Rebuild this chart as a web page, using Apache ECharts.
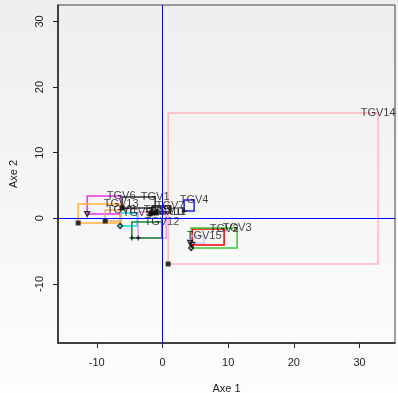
<!DOCTYPE html>
<html>
<head>
<meta charset="utf-8">
<script src="https://cdn.jsdelivr.net/npm/echarts@6/dist/echarts.min.js"></script>
<style>
html,body{margin:0;padding:0;}
body{width:398px;height:393px;background:linear-gradient(#eeeeee,#fdfdfd);}
#c{width:398px;height:393px;}
</style>
</head>
<body>
<div id="c"></div>
<script>
// group labels
var groups = ['TGV1','TGV2','TGV3','TGV4','TGV5','TGV6','TGV7','TGV8','TGV9','TGV10','TGV11','TGV12','TGV13','TGV14','TGV15'];
// start point (marker corner)
var startX = [-6.13, 4.52, 4.37, 3.30, -6.44, -11.46, -1.57, -8.72, -1.87, -3.70, -0.96, -4.66, -12.83, 0.87, 4.22];
var startY = [1.57, -4.06, -4.52, 1.11, -1.17, 0.65, 0.81, -0.41, 0.65, -3.00, 0.81, -3.00, -0.72, -6.96, -3.76];
// end point (label corner)
var endX = [-1.11, 9.39, 11.37, 4.82, -3.85, -6.29, 1.17, -6.29, -0.65, 0.56, 1.02, -0.09, -6.29, 32.84, 6.35];
var endY = [3.24, -1.63, -1.48, 2.79, 0.81, 3.39, 1.87, 1.26, 1.26, 0.96, 0.96, -0.56, 2.18, 16.03, -2.69];
// tick labels
var xTicks = [-10, 0, 10, 20, 30];
var yTicks = [-10, 0, 10, 20, 30];

// styles
var palette = ['#333333','#ff0000','#33cc33','#2222ee','#00e5ee','#ee33ee','#222222','#e8b060','#555555','#ee99ee','#666666','#1a8a3a','#ffb340','#ffb6c1','#ccccff'];
var plusPath = 'path://M-1,-4H1V-1H4V1H1V4H-1V1H-4V-1H-1Z';
var markerShapes = ['rect','triangle','diamond',plusPath,'diamond','triangle','rect','rect','rect',plusPath,'rect',plusPath,'rect','rect','triangle'];
var markerRotate = [0,180,0,0,0,180,0,0,0,0,0,0,0,0,180];
var markerFill = [true,false,false,true,false,false,true,true,true,true,true,true,true,true,false];

var rectData = groups.map(function(g,i){return [startX[i],startY[i],endX[i],endY[i],i];});
var markerData = groups.map(function(g,i){
  return {value:[startX[i],startY[i]], symbol:markerShapes[i], symbolRotate:markerRotate[i],
    itemStyle:{color: markerFill[i] ? '#000' : 'rgba(0,0,0,0)', borderColor:'#000', borderWidth: markerFill[i]?0:1.3}};
});
var labelData = groups.map(function(g,i){return {value:[endX[i],endY[i]], name:g};});

var chart = echarts.init(document.getElementById('c'), null, {renderer:'canvas'});
var font = 'Liberation Sans, Arial, Helvetica, sans-serif';
chart.setOption({
  animation:false,
  backgroundColor:'transparent',
  grid:{left:58,right:3,top:5,bottom:50,outerBoundsMode:'none',containLabel:false,show:true,borderColor:'#444',borderWidth:1,backgroundColor:'transparent'},
  xAxis:{type:'value',min:-15.9,max:35.4,
    name:'Axe 1',nameLocation:'middle',nameGap:40,nameTextStyle:{fontFamily:font,fontSize:11,color:'#222'},
    axisLine:{show:true,onZero:false,lineStyle:{color:'#222',width:1.5}},
    axisTick:{show:true,length:5,customValues:xTicks,lineStyle:{color:'#222'}},
    axisLabel:{customValues:xTicks,margin:14,fontFamily:font,fontSize:11,color:'#222'},
    splitLine:{show:false}},
  yAxis:{type:'value',min:-19.0,max:32.5,
    name:'Axe 2',nameLocation:'middle',nameGap:39,nameRotate:90,nameTextStyle:{fontFamily:font,fontSize:11,color:'#222'},
    axisLine:{show:true,onZero:false,lineStyle:{color:'#222',width:1.5}},
    axisTick:{show:true,length:5,customValues:yTicks,lineStyle:{color:'#222'}},
    axisLabel:{customValues:yTicks,rotate:90,margin:13,fontFamily:font,fontSize:11,color:'#222'},
    splitLine:{show:false}},
  series:[
    {type:'custom',data:rectData,z:2,
      renderItem:function(params,api){
        var a = api.coord([api.value(0),api.value(1)]);
        var b = api.coord([api.value(2),api.value(3)]);
        var i = api.value(4);
        return {type:'rect',shape:{x:Math.min(a[0],b[0]),y:Math.min(a[1],b[1]),width:Math.abs(b[0]-a[0]),height:Math.abs(b[1]-a[1])},
          style:{fill:'none',stroke:palette[i],lineWidth:1.5}};
      },
      markLine:{silent:true,symbol:'none',label:{show:false},lineStyle:{color:'#0000ff',width:1,type:'solid'},
        data:[{xAxis:0},{yAxis:0}]}
    },
    {type:'scatter',data:markerData,symbolSize:5,z:3},
    {type:'scatter',data:labelData,symbolSize:0,z:4,
      label:{show:true,position:'inside',formatter:'{b}',fontFamily:font,fontSize:11,color:'#111'}}
  ]
});
</script>
</body>
</html>
